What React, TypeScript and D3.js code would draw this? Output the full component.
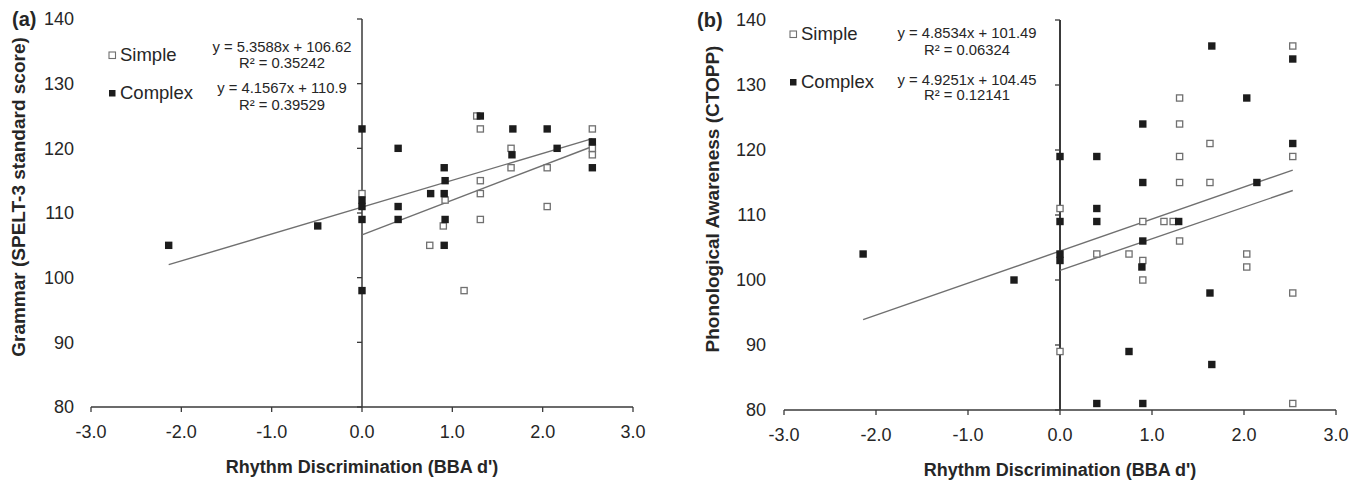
import React from "react";
import * as d3 from "d3";

// ---------- data ----------
const xTicks = [-3, -2, -1, 0, 1, 2, 3];
const yTicks = [80, 90, 100, 110, 120, 130, 140];
const seriesNames = ["Simple", "Complex"];

// Panel (a): Grammar (SPELT-3)
const aSimpleX = [0, 0.75, 0.9, 0.92, 1.13, 1.27, 1.31, 1.31, 1.31, 1.31, 1.65, 1.65, 2.05, 2.05, 2.55, 2.55, 2.55];
const aSimpleY = [113, 105, 108, 112, 98, 125, 123, 115, 113, 109, 120, 117, 117, 111, 123, 120, 119];
const aComplexX = [-2.14, -0.49, 0, 0, 0, 0, 0, 0.4, 0.4, 0.4, 0.76, 0.91, 0.92, 0.91, 0.92, 0.91, 1.31, 1.67, 1.66, 2.05, 2.16, 2.55, 2.55];
const aComplexY = [105, 108, 123, 112, 111, 109, 98, 120, 111, 109, 113, 117, 115, 113, 109, 105, 125, 123, 119, 123, 120, 121, 117];
const aSlopes = [5.3588, 4.1567];
const aIntercepts = [106.62, 110.9];
const aEquations = ["y = 5.3588x + 106.62", "y = 4.1567x + 110.9"];
const aR2 = ["R² = 0.35242", "R² = 0.39529"];

// Panel (b): Phonological Awareness (CTOPP)
const bSimpleX = [0, 0, 0.4, 0.75, 0.9, 0.9, 0.9, 1.13, 1.23, 1.3, 1.3, 1.3, 1.3, 1.3, 1.63, 1.63, 2.03, 2.03, 2.53, 2.53, 2.53, 2.53];
const bSimpleY = [111, 89, 104, 104, 109, 103, 100, 109, 109, 128, 124, 119, 115, 106, 121, 115, 104, 102, 136, 119, 98, 81];
const bComplexX = [-2.14, -0.5, 0, 0, 0, 0, 0.4, 0.4, 0.4, 0.4, 0.75, 0.9, 0.9, 0.9, 0.89, 0.9, 1.29, 1.65, 1.63, 1.65, 2.03, 2.14, 2.53, 2.53];
const bComplexY = [104, 100, 119, 109, 104, 103, 119, 111, 109, 81, 89, 124, 115, 106, 102, 81, 109, 136, 98, 87, 128, 115, 134, 121];
const bSlopes = [4.8534, 4.9251];
const bIntercepts = [101.49, 104.45];
const bEquations = ["y = 4.8534x + 101.49", "y = 4.9251x + 104.45"];
const bR2 = ["R² = 0.06324", "R² = 0.12141"];

const FONT = "'Liberation Sans', Arial, Helvetica, sans-serif";
const TXT = "#262626";

type PanelProps = {
  tag: string;
  yTitle: string;
  xRange: [number, number];
  yRange: [number, number];
  tickRight: number;
  tagX: number;
  yTitleX: number;
  yAxisW: number;
  simple: { x: number[]; y: number[] };
  complex: { x: number[]; y: number[] };
  slopes: number[];
  intercepts: number[];
  equations: string[];
  r2: string[];
  legendX: number;
  legendY: number[];
  eqX: number;
  eqY: number[];
};

function Panel(p: PanelProps) {
  const x = d3.scaleLinear().domain([-3, 3]).range(p.xRange);
  const y = d3.scaleLinear().domain([80, 140]).range(p.yRange);
  const series = [p.simple, p.complex];
  const sq = 7.4;
  return (
    <g fontFamily={FONT} fill={TXT}>
      <text x={p.tagX} y={y(140)} dy="0.35em" fontSize={20} fontWeight="bold">
        {p.tag}
      </text>
      {/* y tick labels (low position) */}
      {yTicks.map((t) => (
        <text key={t} x={p.tickRight} y={y(t)} dy="0.35em" textAnchor="end" fontSize={18}>
          {t}
        </text>
      ))}
      {/* x tick labels */}
      {xTicks.map((t) => (
        <text key={t} x={x(t)} y={y(80) + 25} dy="0.35em" textAnchor="middle" fontSize={18}>
          {t.toFixed(1)}
        </text>
      ))}
      {/* axis titles */}
      <text
        x={(p.xRange[0] + p.xRange[1]) / 2}
        y={y(80) + 60}
        dy="0.35em"
        textAnchor="middle"
        fontSize={18}
        fontWeight="bold"
      >
        Rhythm Discrimination (BBA d')
      </text>
      <text
        transform={`translate(${p.yTitleX},${(y(80) + y(140)) / 2 - 16}) rotate(-90)`}
        dy="0.35em"
        textAnchor="middle"
        fontSize={19}
        fontWeight="bold"
      >
        {p.yTitle}
      </text>
      {/* axes */}
      <line x1={x(-3)} x2={x(3)} y1={y(80)} y2={y(80)} stroke="#3a3a3a" strokeWidth={1.5} />
      {xTicks.map((t) => (
        <line key={t} x1={x(t)} x2={x(t)} y1={y(80)} y2={y(80) + 5} stroke="#3a3a3a" strokeWidth={1.3} />
      ))}
      <line x1={x(0)} x2={x(0)} y1={y(80)} y2={y(140)} stroke="#3a3a3a" strokeWidth={p.yAxisW} />
      {yTicks.map((t) => (
        <line key={t} x1={x(0) - 5} x2={x(0)} y1={y(t)} y2={y(t)} stroke="#3a3a3a" strokeWidth={1.3} />
      ))}
      {/* regression lines */}
      {series.map((s, i) => {
        const x0 = d3.min(s.x) as number;
        const x1 = d3.max(s.x) as number;
        const pts: [number, number][] = [x0, x1].map((v) => [x(v), y(p.slopes[i] * v + p.intercepts[i])]);
        return (
          <path
            key={i}
            d={d3.line()(pts) || ""}
            fill="none"
            stroke="#707070"
            strokeWidth={1.4}
          />
        );
      })}
      {/* points */}
      {p.simple.x.map((v, i) => (
        <rect
          key={"s" + i}
          x={x(v) - sq / 2 + 0.6}
          y={y(p.simple.y[i]) - sq / 2 + 0.6}
          width={sq - 1.2}
          height={sq - 1.2}
          fill="#fff"
          stroke="#707070"
          strokeWidth={1.3}
        />
      ))}
      {p.complex.x.map((v, i) => (
        <rect
          key={"c" + i}
          x={x(v) - sq / 2}
          y={y(p.complex.y[i]) - sq / 2}
          width={sq}
          height={sq}
          fill="#1c1c1c"
        />
      ))}
      {/* legend */}
      {seriesNames.map((n, i) => (
        <g key={n}>
          <rect
            x={p.legendX - 3}
            y={p.legendY[i] - 3}
            width={6.5}
            height={6.5}
            fill={i === 0 ? "#fff" : "#1c1c1c"}
            stroke={i === 0 ? "#707070" : "none"}
            strokeWidth={1.1}
          />
          <text x={p.legendX + 8} y={p.legendY[i]} dy="0.35em" fontSize={18.5}>
            {n}
          </text>
        </g>
      ))}
      {/* equations */}
      {p.equations.map((e, i) => (
        <g key={e}>
          <text x={p.eqX} y={p.eqY[i * 2]} dy="0.35em" textAnchor="middle" fontSize={14.8}>
            {e}
          </text>
          <text x={p.eqX} y={p.eqY[i * 2 + 1]} dy="0.35em" textAnchor="middle" fontSize={14.8}>
            {p.r2[i]}
          </text>
        </g>
      ))}
    </g>
  );
}

export default function App() {
  return (
    <svg
      width={1363}
      height={480}
      style={{ position: "absolute", left: 0, top: 0, background: "#fff" }}
    >
      <rect width={1363} height={480} fill="#fff" />
      <Panel
        tag="(a)"
        yTitle="Grammar (SPELT-3 standard score)"
        xRange={[91, 633]}
        yRange={[407, 19]}
        tickRight={74}
        tagX={12}
        yTitleX={18}
        yAxisW={1.5}
        simple={{ x: aSimpleX, y: aSimpleY }}
        complex={{ x: aComplexX, y: aComplexY }}
        slopes={aSlopes}
        intercepts={aIntercepts}
        equations={aEquations}
        r2={aR2}
        legendX={112}
        legendY={[55, 93]}
        eqX={282}
        eqY={[47, 63, 88, 105]}
      />
      <Panel
        tag="(b)"
        yTitle="Phonological Awareness (CTOPP)"
        xRange={[784, 1336]}
        yRange={[410, 20]}
        tickRight={766}
        tagX={697}
        yTitleX={712}
        yAxisW={2}
        simple={{ x: bSimpleX, y: bSimpleY }}
        complex={{ x: bComplexX, y: bComplexY }}
        slopes={bSlopes}
        intercepts={bIntercepts}
        equations={bEquations}
        r2={bR2}
        legendX={793}
        legendY={[34, 82]}
        eqX={967}
        eqY={[33, 50, 80, 95]}
      />
    </svg>
  );
}
